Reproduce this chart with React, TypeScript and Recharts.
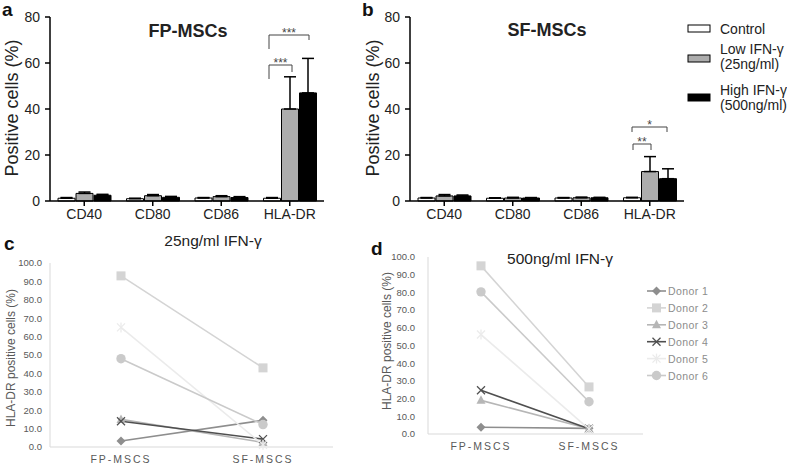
import React from "react"
import { BarChart, Bar, ErrorBar, LineChart, Line, XAxis, YAxis } from "recharts"

const FONT = "'Liberation Sans', Arial, sans-serif"

// panels a / b
const markers = ["CD40", "CD80", "CD86", "HLA-DR"]

const fpControl = [1.2, 1.0, 1.3, 1.2]
const fpControlSd = [0.3, 0.2, 0.2, 0.3]
const fpLow = [3.3, 2.3, 1.9, 40]
const fpLowSd = [0.6, 0.5, 0.4, 14]
const fpHigh = [2.5, 1.6, 1.5, 47]
const fpHighSd = [0.4, 0.4, 0.4, 15]

const sfControl = [1.3, 1.2, 1.3, 1.4]
const sfControlSd = [0.2, 0.2, 0.2, 0.2]
const sfLow = [2.2, 1.3, 1.4, 12.8]
const sfLowSd = [0.6, 0.3, 0.3, 6.5]
const sfHigh = [2.2, 1.3, 1.4, 9.7]
const sfHighSd = [0.4, 0.2, 0.2, 4.3]

// panels c / d
const sources = ["FP-MSCS", "SF-MSCS"]
const donors = ["Donor 1", "Donor 2", "Donor 3", "Donor 4", "Donor 5", "Donor 6"]

const low25Donor1 = [3.3, 14.5]
const low25Donor2 = [93, 43]
const low25Donor3 = [15, 2.5]
const low25Donor4 = [14, 4.3]
const low25Donor5 = [65, 1.2]
const low25Donor6 = [48, 12.2]

const high500Donor1 = [3.8, 3.2]
const high500Donor2 = [95, 26.6]
const high500Donor3 = [19, 3]
const high500Donor4 = [24.7, 3]
const high500Donor5 = [56.2, 2.8]
const high500Donor6 = [80.3, 18.2]

const donorColors = ["#8e8e8e", "#d4d4d4", "#b6b6b6", "#4f4f4f", "#ebebeb", "#cacaca"]
const donorShapes = ["diamond", "square", "triangle", "x", "star", "circle"]

const barRows = (ctl: number[], ctlSd: number[], low: number[], lowSd: number[], high: number[], highSd: number[]) =>
  markers.map((m, i) => ({
    marker: m,
    control: ctl[i],
    controlErr: [0, ctlSd[i]],
    low: low[i],
    lowErr: [0, lowSd[i]],
    high: high[i],
    highErr: [0, highSd[i]],
  }))

const fpRows = barRows(fpControl, fpControlSd, fpLow, fpLowSd, fpHigh, fpHighSd)
const sfRows = barRows(sfControl, sfControlSd, sfLow, sfLowSd, sfHigh, sfHighSd)

const donorRows = (series: number[][]) =>
  sources.map((s, i) => {
    const row: Record<string, any> = { source: s }
    donors.forEach((d, j) => {
      row[d] = series[j][i]
    })
    return row
  })

const low25Rows = donorRows([low25Donor1, low25Donor2, low25Donor3, low25Donor4, low25Donor5, low25Donor6])
const high500Rows = donorRows([high500Donor1, high500Donor2, high500Donor3, high500Donor4, high500Donor5, high500Donor6])

const Marker = ({ shape, color, cx, cy }: { shape: string; color: string; cx: number; cy: number }) => {
  if (cx == null || cy == null) return null
  switch (shape) {
    case "diamond":
      return <polygon points={`${cx},${cy - 4.5} ${cx + 4.5},${cy} ${cx},${cy + 4.5} ${cx - 4.5},${cy}`} fill={color} />
    case "square":
      return <rect x={cx - 4.5} y={cy - 4.5} width={9} height={9} fill={color} />
    case "triangle":
      return <polygon points={`${cx},${cy - 5} ${cx + 4.5},${cy + 3.5} ${cx - 4.5},${cy + 3.5}`} fill={color} />
    case "x":
      return (
        <g stroke={color} strokeWidth={1.3}>
          <line x1={cx - 4} y1={cy - 4} x2={cx + 4} y2={cy + 4} />
          <line x1={cx - 4} y1={cy + 4} x2={cx + 4} y2={cy - 4} />
        </g>
      )
    case "star":
      return (
        <g stroke={color} strokeWidth={1.3}>
          <line x1={cx - 4} y1={cy - 4} x2={cx + 4} y2={cy + 4} />
          <line x1={cx - 4} y1={cy + 4} x2={cx + 4} y2={cy - 4} />
          <line x1={cx} y1={cy - 5} x2={cx} y2={cy + 5} />
        </g>
      )
    default:
      return <circle cx={cx} cy={cy} r={4.7} fill={color} />
  }
}

const dotFor = (shape: string, color: string) => (p: any) =>
  <Marker key={`${shape}-${p.index}`} shape={shape} color={color} cx={p.cx} cy={p.cy} />

const barAxisTick = { fontSize: 14, fill: "#222", fontFamily: FONT }
const axisStroke = { stroke: "#000", strokeWidth: 1.5 }

const ExpressionBars = ({ rows }: { rows: any[] }) => (
  <BarChart width={330} height={230} data={rows} margin={{ top: 17, right: 6, bottom: 0, left: 0 }} barSize={17} barGap={1}>
    <XAxis dataKey="marker" height={29} tick={barAxisTick} axisLine={axisStroke} tickLine={axisStroke} tickSize={5} tickMargin={3} />
    <YAxis
      width={50}
      domain={[0, 80]}
      ticks={[0, 20, 40, 60, 80]}
      tick={barAxisTick}
      axisLine={axisStroke}
      tickLine={axisStroke}
      tickSize={5}
      tickMargin={5}
    />
    <Bar dataKey="control" fill="#fff" stroke="#000" strokeWidth={1} isAnimationActive={false}>
      <ErrorBar dataKey="controlErr" width={6} stroke="#000" strokeWidth={1.5} direction="y" />
    </Bar>
    <Bar dataKey="low" fill="#acacac" stroke="#000" strokeWidth={1} isAnimationActive={false}>
      <ErrorBar dataKey="lowErr" width={6} stroke="#000" strokeWidth={1.5} direction="y" />
    </Bar>
    <Bar dataKey="high" fill="#000" stroke="#000" strokeWidth={1} isAnimationActive={false}>
      <ErrorBar dataKey="highErr" width={6} stroke="#000" strokeWidth={1.5} direction="y" />
    </Bar>
  </BarChart>
)

const lineTick = { fontSize: 9.5, fill: "#595959", fontFamily: FONT }
const catTick = { fontSize: 10.5, fill: "#595959", fontFamily: FONT, letterSpacing: 2 }

const DonorLines = ({ rows, width, height, top, right, padL, padR, yMargin }: any) => (
  <LineChart width={width} height={height} data={rows} margin={{ top, right, bottom: 0, left: 0 }}>
    <XAxis
      dataKey="source"
      height={20}
      padding={{ left: padL, right: padR }}
      tick={catTick}
      axisLine={{ stroke: "#d9d9d9", strokeWidth: 1 }}
      tickLine={false}
      tickSize={0}
      tickMargin={9}
    />
    <YAxis
      width={50}
      domain={[0, 100]}
      ticks={[0, 10, 20, 30, 40, 50, 60, 70, 80, 90, 100]}
      tickFormatter={(v: number) => v.toFixed(1)}
      tick={lineTick}
      axisLine={{ stroke: "#d9d9d9", strokeWidth: 1 }}
      tickLine={false}
      tickSize={0}
      tickMargin={yMargin}
    />
    {donors.map((d, j) => (
      <Line
        key={d}
        dataKey={d}
        stroke={donorColors[j]}
        strokeWidth={1.6}
        dot={dotFor(donorShapes[j], donorColors[j])}
        activeDot={false}
        isAnimationActive={false}
      />
    ))}
  </LineChart>
)

const Bracket = ({ x1, x2, y, l1, l2, label }: any) => (
  <g>
    <path d={`M${x1},${l1} V${y} H${x2} V${l2}`} fill="none" stroke="#444" strokeWidth={1} />
    <text x={(x1 + x2) / 2} y={y + 1.5} textAnchor="middle" fontSize={12} fill="#444" fontFamily={FONT}>
      {label}
    </text>
  </g>
)

const Overlay = () => (
  <svg width={787} height={467} style={{ position: "absolute", left: 0, top: 0, pointerEvents: "none" }}>
    <g fontFamily={FONT} fontWeight="bold" fontSize={19} fill="#111">
      <text x={2} y={16}>a</text>
      <text x={362} y={16}>b</text>
      <text x={4} y={250}>c</text>
      <text x={371} y={255}>d</text>
    </g>
    <g fontFamily={FONT} fontSize={18} fill="#222" textAnchor="middle">
      <text transform="translate(18,108) rotate(-90)">Positive cells (%)</text>
      <text transform="translate(379,108) rotate(-90)">Positive cells (%)</text>
    </g>
    <g fontFamily={FONT} fontSize={18} fontWeight="bold" fill="#222" textAnchor="middle">
      <text x={188} y={37}>FP-MSCs</text>
      <text x={547} y={36}>SF-MSCs</text>
    </g>
    <Bracket x1={269} x2={309} y={35} l1={49} l2={40} label="***" />
    <Bracket x1={269} x2={292} y={65} l1={79} l2={72} label="***" />
    <Bracket x1={632} x2={667} y={127} l1={132} l2={132} label="*" />
    <Bracket x1={633} x2={651} y={144} l1={150} l2={150} label="**" />

    <g fontFamily={FONT} fontSize={14} fill="#222">
      <rect x={688} y={25} width={22} height={7} fill="#fff" stroke="#000" strokeWidth={1} />
      <text x={720} y={34}>Control</text>
      <rect x={688} y={55} width={22} height={7} fill="#acacac" stroke="#000" strokeWidth={1} />
      <text x={720} y={54}>Low IFN-γ</text>
      <text x={720} y={69}>(25ng/ml)</text>
      <rect x={688} y={94} width={22} height={7} fill="#000" stroke="#000" strokeWidth={1} />
      <text x={720} y={95}>High IFN-γ</text>
      <text x={720} y={110}>(500ng/ml)</text>
    </g>

    <g fontFamily={FONT} fontSize={15.5} fill="#222" textAnchor="middle">
      <text x={213} y={246}>25ng/ml IFN-γ</text>
      <text x={560} y={264}>500ng/ml IFN-γ</text>
    </g>
    <g fontFamily={FONT} fontSize={12} fill="#595959" textAnchor="middle">
      <text transform="translate(15,358) rotate(-90)">HLA-DR positive cells (%)</text>
      <text transform="translate(391,341) rotate(-90)">HLA-DR positive cells (%)</text>
    </g>

    {donors.map((d, j) => {
      const y = 291 + j * 16.9
      return (
        <g key={d}>
          <line x1={647} x2={666} y1={y} y2={y} stroke={donorColors[j]} strokeWidth={1.6} />
          <Marker shape={donorShapes[j]} color={donorColors[j]} cx={656.5} cy={y} />
          <text x={668} y={y + 4} fontSize={10.5} letterSpacing={0.4} fill="#8c8c8c" fontFamily={FONT}>
            {d}
          </text>
        </g>
      )
    })}
  </svg>
)

export default function App() {
  return (
    <div style={{ position: "absolute", left: 0, top: 0, width: 787, height: 467, background: "#fff", overflow: "hidden" }}>
      <div style={{ position: "absolute", left: 0, top: 0 }}>
        <ExpressionBars rows={fpRows} />
      </div>
      <div style={{ position: "absolute", left: 360, top: 0 }}>
        <ExpressionBars rows={sfRows} />
      </div>
      <div style={{ position: "absolute", left: 0, top: 240 }}>
        <DonorLines rows={low25Rows} width={340} height={227} top={23} right={7} padL={71} padR={70} yMargin={8} />
      </div>
      <div style={{ position: "absolute", left: 378, top: 230 }}>
        <DonorLines rows={high500Rows} width={267} height={224} top={27} right={2} padL={53} padR={54} yMargin={13} />
      </div>
      <Overlay />
    </div>
  )
}
